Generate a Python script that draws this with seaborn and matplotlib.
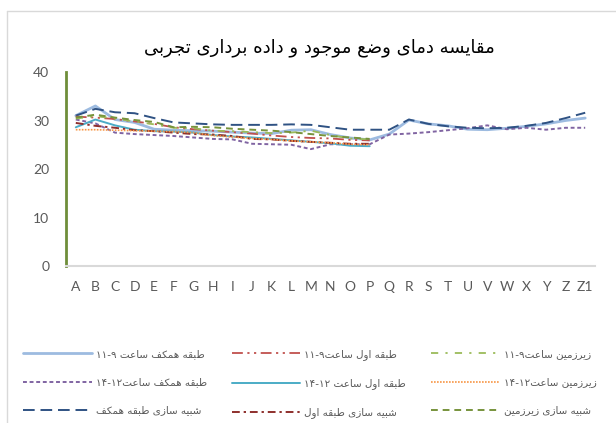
import re
import numpy as np
import pandas as pd
import matplotlib
matplotlib.use("Agg")
import matplotlib.pyplot as plt
import seaborn as sns

# ---- data -------------------------------------------------------------
categories = list("ABCDEFGHIJKLMNOPQRSTUVWXYZ") + ["Z1"]

hamkaf_9_11 = [31.0, 33.0, 30.2, 29.6, 28.2, 28.0, 27.9, 27.8, 27.6, 27.4, 27.3, 28.0, 28.1,
               27.1, 26.4, 26.0, 27.2, 30.1, 29.3, 28.9, 28.2, 28.1, 28.4, 28.8, 29.3, 30.0, 30.5]
hamkaf_12_14 = [30.2, 29.4, 27.5, 27.2, 27.0, 26.8, 26.5, 26.2, 26.1, 25.2, 25.1, 25.0, 24.1,
                25.1, 25.1, 25.1, 27.1, 27.3, 27.6, 28.0, 28.4, 29.0, 28.2, 28.5, 28.1, 28.5, 28.5]
sim_hamkaf = [31.0, 32.4, 31.7, 31.5, 30.5, 29.6, 29.4, 29.2, 29.1, 29.1, 29.1, 29.2, 29.1,
              28.6, 28.1, 28.1, 28.1, 30.2, 29.3, 28.8, 28.5, 28.4, 28.5, 28.9, 29.5, 30.5, 31.6]

awal_9_11 = [30.8, 30.6, 30.3, 29.8, 29.3, 28.6, 28.2, 27.9, 27.6, 27.3, 26.9, 26.6, 26.4, 26.3, 26.0, 25.9]
awal_12_14 = [28.6, 30.2, 29.0, 28.1, 27.8, 27.7, 27.5, 27.0, 26.7, 26.5, 26.2, 25.9, 25.6, 25.3, 24.8, 24.7]
sim_awal = [29.5, 28.9, 28.5, 28.0, 27.8, 27.5, 27.2, 27.1, 26.8, 26.2, 26.1, 25.8, 25.6, 25.4, 25.2, 25.2]

zir_9_11 = [30.4, 30.9, 30.4, 29.8, 29.2, 28.5, 28.4, 27.9, 27.8, 27.6, 27.4, 27.5, 27.9, 27.0, 26.3, 26.1]
zir_12_14 = [28.1, 28.1, 28.0, 27.9, 27.8, 27.7, 27.5, 26.9, 26.6, 26.3, 26.1, 25.8, 25.6, 25.4, 25.1, 25.0]
sim_zir = [30.6, 31.2, 30.6, 30.1, 29.7, 28.6, 28.7, 28.6, 28.3, 28.1, 27.9, 27.6, 27.2, 26.8, 26.5, 26.2]

title_text = "مقایسه دمای وضع موجود و داده برداری تجربی"
y_ticks = [0, 10, 20, 30, 40]

# ---- minimal Persian shaping (matplotlib does not shape Arabic script) --
FORMS = {
    "\u0627": ("\uFE8D", "\uFE8E", None, None),
    "\u0628": ("\uFE8F", "\uFE90", "\uFE91", "\uFE92"),
    "\u067E": ("\uFB56", "\uFB57", "\uFB58", "\uFB59"),
    "\u062A": ("\uFE95", "\uFE96", "\uFE97", "\uFE98"),
    "\u062C": ("\uFE9D", "\uFE9E", "\uFE9F", "\uFEA0"),
    "\u0686": ("\uFB7A", "\uFB7B", "\uFB7C", "\uFB7D"),
    "\u062F": ("\uFEA9", "\uFEAA", None, None),
    "\u0631": ("\uFEAD", "\uFEAE", None, None),
    "\u0632": ("\uFEAF", "\uFEB0", None, None),
    "\u0698": ("\uFB8A", "\uFB8B", None, None),
    "\u0633": ("\uFEB1", "\uFEB2", "\uFEB3", "\uFEB4"),
    "\u0634": ("\uFEB5", "\uFEB6", "\uFEB7", "\uFEB8"),
    "\u0636": ("\uFEBD", "\uFEBE", "\uFEBF", "\uFEC0"),
    "\u0637": ("\uFEC1", "\uFEC2", "\uFEC3", "\uFEC4"),
    "\u0639": ("\uFEC9", "\uFECA", "\uFECB", "\uFECC"),
    "\u0641": ("\uFED1", "\uFED2", "\uFED3", "\uFED4"),
    "\u0642": ("\uFED5", "\uFED6", "\uFED7", "\uFED8"),
    "\u06A9": ("\uFB8E", "\uFB8F", "\uFB90", "\uFB91"),
    "\u06AF": ("\uFB92", "\uFB93", "\uFB94", "\uFB95"),
    "\u0644": ("\uFEDD", "\uFEDE", "\uFEDF", "\uFEE0"),
    "\u0645": ("\uFEE1", "\uFEE2", "\uFEE3", "\uFEE4"),
    "\u0646": ("\uFEE5", "\uFEE6", "\uFEE7", "\uFEE8"),
    "\u0647": ("\uFEE9", "\uFEEA", "\uFEEB", "\uFEEC"),
    "\u0648": ("\uFEED", "\uFEEE", None, None),
    "\u06CC": ("\uFBFC", "\uFBFD", "\uFBFE", "\uFBFF"),
}


def shape(text):
    out = []
    for i, ch in enumerate(text):
        if ch not in FORMS:
            out.append(ch)
            continue
        prev = text[i - 1] if i > 0 else ""
        nxt = text[i + 1] if i + 1 < len(text) else ""
        iso, fin, ini, med = FORMS[ch]
        join_prev = prev in FORMS and FORMS[prev][2] is not None
        join_next = ini is not None and nxt in FORMS
        if join_prev and join_next:
            out.append(med)
        elif join_prev:
            out.append(fin)
        elif join_next:
            out.append(ini)
        else:
            out.append(iso)
    return "".join(out)


def rtl(text):
    tokens = re.findall(r"[0-9\u06F0-\u06F9]+|[^0-9\u06F0-\u06F9]", shape(text))
    return "".join(reversed(tokens))


# ---- series styling -----------------------------------------------------
series = [
    ("طبقه همکف ساعت ۹-۱۱", hamkaf_9_11, "#9DBBE0", "-", 2.0),
    ("طبقه همکف ساعت۱۲-۱۴", hamkaf_12_14, "#8064A2", (0, (2, 1.4)), 1.4),
    ("شبیه سازی طبقه همکف", sim_hamkaf, "#2F5283", (0, (6, 3)), 1.4),
    ("طبقه اول ساعت۹-۱۱", awal_9_11, "#C0504D", (0, (6, 2.5, 1.2, 2.5, 1.2, 2.5)), 1.3),
    ("طبقه اول ساعت ۱۲-۱۴", awal_12_14, "#4BACC6", "-", 1.4),
    ("شبیه سازی طبقه اول", sim_awal, "#8E2F2C", (0, (4, 2, 1.2, 2)), 1.4),
    ("زیرزمین ساعت۹-۱۱", zir_9_11, "#9BBB59", (0, (4, 4, 1.2, 4)), 1.3),
    ("زیرزمین ساعت۱۲-۱۴", zir_12_14, "#F79646", (0, (1, 0.8)), 1.2),
    ("شبیه سازی زیرزمین", sim_zir, "#77933C", (0, (3.5, 2.5)), 1.4),
]

sns.set_theme(style="white")
plt.rcParams["font.family"] = ["DejaVu Sans"]

fig = plt.figure(figsize=(6.16, 4.23), dpi=100)
W, H = 616, 423
ax = fig.add_axes([66 / W, 1 - 266 / H, (595 - 66) / W, (266 - 72) / H])

handles = []
for name, vals, color, ls, lw in series:
    df = pd.DataFrame({"cat": categories[:len(vals)], "val": vals})
    sns.lineplot(data=df, x="cat", y="val", ax=ax, color=color, linestyle=ls,
                 linewidth=lw, sort=False)
    handles.append(ax.lines[-1])

ax.set_xlim(-0.5, len(categories) - 0.5)
ax.set_ylim(0, 40)
ax.set_yticks(y_ticks)
ax.set_xlabel("")
ax.set_ylabel("")
for s in ["top", "right"]:
    ax.spines[s].set_visible(False)
ax.spines["left"].set_color("#6F8E3A")
ax.spines["left"].set_linewidth(2.0)
ax.spines["bottom"].set_color("#D9D9D9")
ax.spines["bottom"].set_linewidth(1.5)
ax.tick_params(axis="both", length=0, colors="#595959", labelsize=10)
ax.tick_params(axis="x", pad=11)
ax.tick_params(axis="y", pad=12)
for lab in ax.get_xticklabels() + ax.get_yticklabels():
    lab.set_family("Lato")
ax.grid(False)

fig.text(319 / W, 1 - 48 / H, rtl(title_text), ha="center", va="center",
         fontsize=13, color="black")

labels = [rtl(s[0]) for s in series]
leg = fig.legend(handles, labels, ncol=3, loc="upper left",
                 bbox_to_anchor=(23 / W, 1 - 349 / H), frameon=False,
                 fontsize=7.5, handlelength=6.6, handletextpad=0.4,
                 labelspacing=1.75, columnspacing=2.35, borderpad=0, borderaxespad=0)
for t in leg.get_texts():
    t.set_color("#595959")

# chart area frame
fig.add_artist(plt.Line2D([7 / W, 7 / W], [0, 1 - 11 / H], color="#D9D9D9", lw=1.0,
                          transform=fig.transFigure))
fig.add_artist(plt.Line2D([7 / W, 1], [1 - 11 / H, 1 - 11 / H], color="#D9D9D9", lw=1.0,
                          transform=fig.transFigure))

fig.savefig("out.png", dpi=100, facecolor="white")
